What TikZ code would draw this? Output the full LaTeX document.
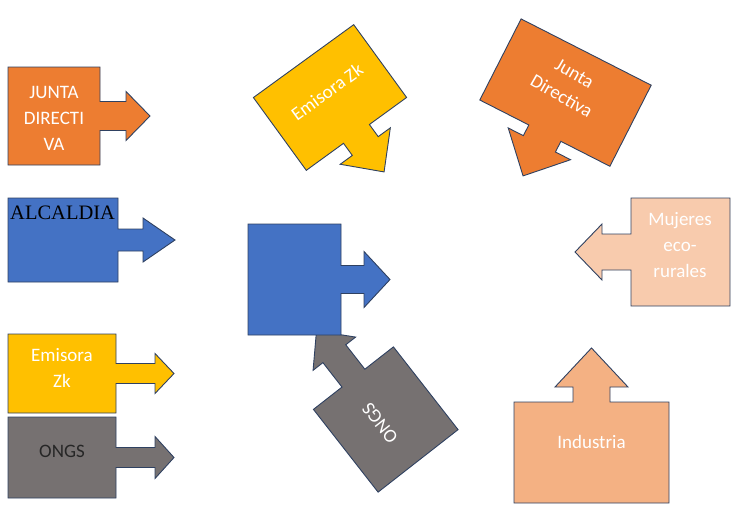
\documentclass[tikz,border=0pt]{standalone}
\usepackage{fontspec}
\setmainfont{Carlito}
\newfontfamily\serifalc{Liberation Serif}
\usepackage{tikz}
\usetikzlibrary{positioning}

\definecolor{naranja}{HTML}{ED7D31}
\definecolor{azul}{HTML}{4472C4}
\definecolor{amarillo}{HTML}{FFC000}
\definecolor{gris}{HTML}{767171}
\definecolor{durazno}{HTML}{F8CBAD}
\definecolor{salmon}{HTML}{F4B183}
\definecolor{borde}{HTML}{2F4161}

% box width / box height / half shaft / half head / neck / head length
\tikzset{
  pics/callout/.style args={#1/#2/#3/#4/#5/#6}{code={
    \draw[pic actions] ({-#1/2},{-#2/2}) -- ({#1/2},{-#2/2}) -- ({#1/2},{-#3})
      -- ({#1/2+#5},{-#3}) -- ({#1/2+#5},{-#4}) -- ({#1/2+#5+#6},0)
      -- ({#1/2+#5},{#4}) -- ({#1/2+#5},{#3}) -- ({#1/2},{#3})
      -- ({#1/2},{#2/2}) -- ({-#1/2},{#2/2}) -- cycle;
  }}
}

\begin{document}
\begin{tikzpicture}[x=1pt, y=-1pt,
    box/.style={draw=borde, line width=0.9pt, line join=miter},
    lbl/.style={text=white, align=center, font=\fontsize{19}{26}\selectfont}]
    \useasboundingbox (0,0) rectangle (736,507);

    % Left column
    \foreach \px/\py/\bw/\bh/\sw/\hw/\nk/\tl/\col in {54/116/92/98/14.5/24.5/26/24/naranja,
        63/240/110/84/11/22/25/32/azul, 62/373.5/108/79/10/20/39/19/amarillo,
        62/457.5/108/81/10/21/39/19/gris} {
      \pic[box, fill=\col] at (\px,\py) {callout=\bw/\bh/\sw/\hw/\nk/\tl};
    }

    % Rotated ones
    \pic[box, fill=amarillo, rotate=-54] at (330,97.5) {callout=90/124/16/31/15/32};
    \pic[box, fill=naranja, rotate=-117] at (565.5,92.6) {callout=91/146/18/35/12/36};
    \pic[box, fill=gris, rotate=128] at (385.75,419.5) {callout=105/101.5/14.5/27/31/29};

    % Centre and right
    \pic[box, fill=azul] at (294.5,279.5) {callout=93/111/14/28/23/26};
    \pic[box, fill=durazno, rotate=180] at (680.5,252) {callout=99/108/18/28/29/27};
    \pic[box, fill=salmon, rotate=90] at (591.5,452.5) {callout=101/155/18.5/36.5/15/39};

    % Labels
    \node[lbl] (junta) at (54,118.5) {JUNTA\\DIRECTI\\VA};
    \node[anchor=base west, inner sep=0pt, font=\serifalc\fontsize{20.5}{24}\selectfont] (alcaldia) at (10,219) {ALCALDIA};
    \node[lbl] (emisora) at (62,368) {Emisora\\Zk};
    \node[lbl, text=black!85] (ongs) at (62,451) {ONGS};
    \node[lbl, rotate=36] (emisoraR) at (327,92) {Emisora Zk};
    \node[lbl, rotate=-30] (juntaR) at (568,85) {Junta\\Directiva};
    \node[lbl, rotate=128] (ongsR) at (380,423) {ONGS};
    \node[lbl] (mujeres) at (680,245) {Mujeres\\eco-\\rurales};
    \node[lbl] (industria) at (591.5,442) {Industria};
\end{tikzpicture}
\end{document}
